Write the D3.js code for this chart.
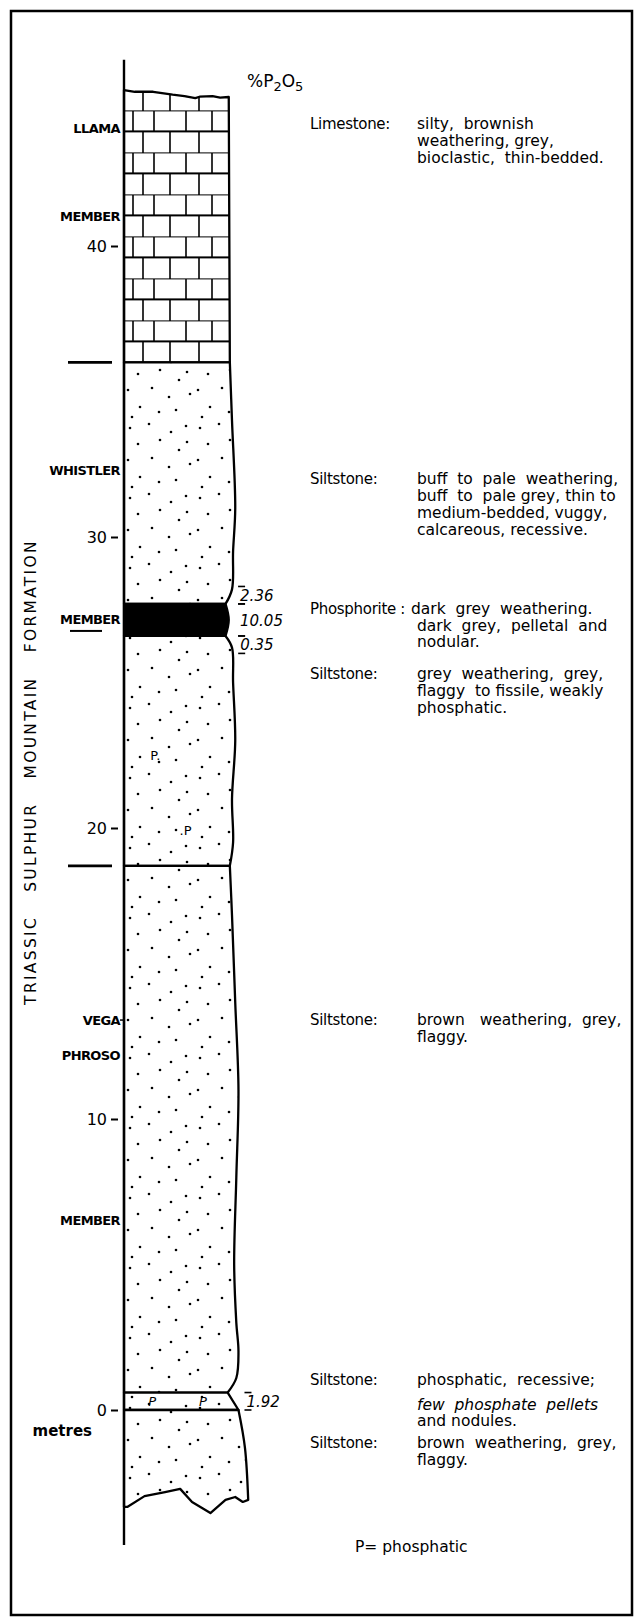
<!DOCTYPE html>
<html>
<head>
<meta charset="utf-8">
<script src="https://cdn.jsdelivr.net/npm/d3@7"></script>
<style>
  body { margin: 0; background: #fff; }
  text { font-family: "DejaVu Sans", sans-serif; fill: #000; }
</style>
</head>
<body>
<div id="chart"></div>
<script>
// scale ticks, metres above the 0 datum
const depthTicks = [0, 10, 20, 30, 40];

// lithologic units, top to bottom
const unitNames = ["Llama limestone", "Whistler siltstone (upper)", "Phosphorite", "Whistler siltstone (lower)", "Vega-Phroso siltstone", "Phosphatic siltstone", "Basal siltstone"];
const unitTops = [45.12, 36.0, 27.7, 26.6, 18.7, 0.6, 0.0];
const unitBases = [36.0, 27.7, 26.6, 18.7, 0.6, 0.0, -3.09];
const unitLith = ["limestone", "siltstone", "phosphorite", "siltstone", "siltstone", "siltstone", "siltstone"];

// weathering profile of the right edge (relative resistance 0-100)
const edgeDepths = [45.12, 36.0, 34.0, 31.0, 29.5, 28.2, 27.7, 27.15, 26.6, 26.2, 25.0, 23.0, 21.0, 19.5, 18.7, 17.0, 14.0, 11.0, 8.0, 5.0, 3.0, 2.0, 1.1, 0.6, 0.0, -1.3, -3.09];
const edgeIndex = [97, 98, 100, 103, 101, 100, 94, 97, 94, 100, 101, 103, 100, 101, 98, 100, 103, 106, 104, 102, 104, 106, 104, 96, 106, 112, 115];

// broken top of the limestone (left to right)
const topIndex = [0, 10, 27, 45, 56, 66, 70, 82, 89, 97];
const topDepths = [45.36, 45.3, 45.3, 45.2, 45.15, 45.08, 45.13, 45.15, 45.1, 45.12];
// eroded base of the lowest siltstone (right to left)
const baseIndex = [115, 110, 103, 94, 80, 63, 52, 38, 19, 3, 0];
const baseDepths = [-3.09, -3.16, -2.99, -3.09, -3.54, -3.16, -2.71, -2.82, -2.96, -3.33, -3.33];

// column axis line extent
const columnExtent = [46.4, -4.64];

// member names and boundaries
const memberLabels = ["LLAMA", "MEMBER", "WHISTLER", "MEMBER", "VEGA", "PHROSO", "MEMBER"];
const memberLabelDepths = [44.05, 41.0, 32.3, 27.15, 13.4, 12.2, 6.5];
const memberBoundaries = [36.0, 18.7];

// %P2O5 samples
const sampleValues = ["2.36", "10.05", "0.35", "1.92"];
const sampleTops = [28.3, 27.7, 26.6, 0.6];
const sampleBases = [27.7, 26.6, 26.0, 0.0];

// "P" (phosphatic) symbols
const pText = ["P.", ".P", "P", "P"];
const pIndex = [29, 57, 26, 73];
const pDepths = [22.5, 19.9, 0.3, 0.3];

// lithologic descriptions
const descLabels = ["Limestone:", "Siltstone:", "Phosphorite :", "Siltstone:", "Siltstone:", "Siltstone:", "", "Siltstone:"];
const descDepths = [44.2, 32.0, 27.55, 25.3, 13.4, 1.03, 0.2, -1.13];
const descLines = [
  ["silty,  brownish", "weathering, grey,", "bioclastic,  thin-bedded."],
  ["buff  to  pale  weathering,", "buff  to  pale grey, thin to", "medium-bedded, vuggy,", "calcareous, recessive."],
  ["dark  grey  weathering.", "dark  grey,  pelletal  and", "nodular."],
  ["grey  weathering,  grey,", "flaggy  to fissile, weakly", "phosphatic."],
  ["brown   weathering,  grey,", "flaggy."],
  ["phosphatic,  recessive;"],
  ["few  phosphate  pellets", "and nodules."],
  ["brown  weathering,  grey,", "flaggy."]
];
const italicLines = ["few  phosphate  pellets"];

const W = 634, H = 1620;
const svg = d3.select("#chart").append("svg").attr("width", W).attr("height", H);

const y = d3.scaleLinear().domain([0, 40]).range([1410, 246]);
const x = d3.scaleLinear().domain([0, 100]).range([124, 232]);
const edgeAt = d3.scaleLinear().domain(edgeDepths).range(edgeIndex);

// frame
svg.append("rect").attr("x", 11).attr("y", 11).attr("width", 621).attr("height", 1604)
  .attr("fill", "none").attr("stroke", "#000").attr("stroke-width", 2.5);

// patterns
const defs = svg.append("defs");
const brick = defs.append("pattern").attr("id", "brick").attr("patternUnits", "userSpaceOnUse")
  .attr("x", x(0)).attr("y", y(36.0)).attr("width", 108).attr("height", 42);
brick.append("rect").attr("width", 108).attr("height", 42).attr("fill", "#fff");
[0, 21].forEach(v => brick.append("line").attr("x1", 0).attr("x2", 108).attr("y1", v).attr("y2", v)
  .attr("stroke", "#000").attr("stroke-width", 1.8));
[9, 30, 62, 88].forEach(v => brick.append("line").attr("x1", v).attr("x2", v).attr("y1", 0).attr("y2", 21)
  .attr("stroke", "#000").attr("stroke-width", 1.6));
[19, 46, 75].forEach(v => brick.append("line").attr("x1", v).attr("x2", v).attr("y1", 21).attr("y2", 42)
  .attr("stroke", "#000").attr("stroke-width", 1.6));

const dots = defs.append("pattern").attr("id", "dots").attr("patternUnits", "userSpaceOnUse")
  .attr("x", x(0)).attr("y", 0).attr("width", 70).attr("height", 70);
dots.append("rect").attr("width", 70).attr("height", 70).attr("fill", "#fff");
[[6, 8], [25, 4], [47, 12], [62, 6], [14, 24], [36, 20], [55, 30], [4, 40], [28, 38], [45, 47],
 [66, 44], [16, 57], [35, 62], [52, 60], [8, 67], [63, 22]].forEach(p =>
  dots.append("circle").attr("cx", p[0]).attr("cy", p[1]).attr("r", 1.3).attr("fill", "#000"));

// column units
const lineLin = d3.line().x(p => x(p[0])).y(p => y(p[1]));
const lineCurve = d3.line().x(p => x(p[0])).y(p => y(p[1])).curve(d3.curveCatmullRom.alpha(0.5));
const last = unitNames.length - 1;

function unitPath(i) {
  const top = unitTops[i], base = unitBases[i];
  const topPts = i === 0 ? topIndex.map((v, k) => [v, topDepths[k]]) : [[0, top], [edgeAt(top), top]];
  const inner = edgeDepths.filter(d => d < top && d > base);
  const edgePts = [[edgeAt(top), top]].concat(inner.map(d => [edgeAt(d), d]), [[edgeAt(base), base]]);
  const basePts = i === last ? baseIndex.map((v, k) => [v, baseDepths[k]]) : [[edgeAt(base), base], [0, base]];
  return lineLin(topPts) + "L" + lineCurve(edgePts).slice(1) + "L" + lineLin(basePts).slice(1) + "Z";
}

const fills = { limestone: "url(#brick)", siltstone: "url(#dots)", phosphorite: "#000" };
svg.append("g").selectAll("path").data(unitNames).join("path")
  .attr("d", (d, i) => unitPath(i))
  .attr("fill", (d, i) => fills[unitLith[i]])
  .attr("stroke", "#000").attr("stroke-width", 2.3).attr("stroke-linejoin", "round");

// column axis line
svg.append("line").attr("x1", x(0)).attr("x2", x(0))
  .attr("y1", y(columnExtent[0])).attr("y2", y(columnExtent[1]))
  .attr("stroke", "#000").attr("stroke-width", 2.4);

// P symbols
svg.append("g").selectAll("text").data(pText).join("text")
  .attr("x", (d, i) => x(pIndex[i])).attr("y", (d, i) => y(pDepths[i])).attr("dy", "0.35em")
  .attr("text-anchor", "middle").attr("font-size", 13)
  .attr("font-style", (d, i) => pDepths[i] < 1 ? "italic" : "normal")
  .text(d => d);

// depth axis
const axis = svg.append("g").attr("transform", `translate(${x(0) - 6},0)`)
  .call(d3.axisLeft(y).tickValues(depthTicks).tickSize(7).tickPadding(4).tickFormat(d3.format("d")));
axis.select(".domain").remove();
axis.selectAll("line").attr("stroke-width", 2);
axis.selectAll("text").attr("font-size", 16).attr("font-family", "DejaVu Sans");
svg.append("text").attr("x", 92).attr("y", y(-0.7)).attr("dy", "0.35em").attr("text-anchor", "end")
  .attr("font-size", 15).attr("font-weight", "bold").text("metres");

// member labels and boundaries
svg.append("g").selectAll("text").data(memberLabels).join("text")
  .attr("x", x(0) - 4).attr("y", (d, i) => y(memberLabelDepths[i])).attr("dy", "0.35em")
  .attr("text-anchor", "end").attr("font-size", 13).attr("font-weight", "bold")
  .attr("letter-spacing", -0.6).text(d => d);
svg.append("line").attr("x1", 70).attr("x2", 102)
  .attr("y1", y(memberLabelDepths[3]) + 11).attr("y2", y(memberLabelDepths[3]) + 11)
  .attr("stroke", "#000").attr("stroke-width", 2);
svg.append("line").attr("x1", x(0) - 4).attr("x2", x(0))
  .attr("y1", y(memberLabelDepths[4])).attr("y2", y(memberLabelDepths[4]))
  .attr("stroke", "#000").attr("stroke-width", 1.5);
svg.append("g").selectAll("line").data(memberBoundaries).join("line")
  .attr("x1", 68).attr("x2", 112).attr("y1", d => y(d)).attr("y2", d => y(d))
  .attr("stroke", "#000").attr("stroke-width", 2.6);

// formation name
svg.append("text").attr("transform", "translate(31,772) rotate(-90)").attr("dy", "0.35em")
  .attr("text-anchor", "middle").attr("font-size", 15.5)
  .attr("letter-spacing", 2.3).attr("word-spacing", 17)
  .text("TRIASSIC SULPHUR MOUNTAIN FORMATION");

// %P2O5 header
const hdr = svg.append("text").attr("x", 247).attr("y", 87).attr("font-size", 17);
hdr.append("tspan").text("%P");
hdr.append("tspan").attr("dy", 4).attr("font-size", 13).text("2");
hdr.append("tspan").attr("dy", -4).text("O");
hdr.append("tspan").attr("dy", 4).attr("font-size", 13).text("5");

// sample bars and values
const sampleBarX = sampleValues.map((v, i) => {
  const mid = (sampleTops[i] + sampleBases[i]) / 2;
  return x(Math.max(100, edgeAt(sampleTops[i]), edgeAt(sampleBases[i]), edgeAt(mid))) + 6;
});
const bars = svg.append("g");
sampleValues.forEach((v, i) => {
  [sampleTops[i], sampleBases[i]].forEach(d => bars.append("line")
    .attr("x1", sampleBarX[i]).attr("x2", sampleBarX[i] + 7).attr("y1", y(d)).attr("y2", y(d))
    .attr("stroke", "#000").attr("stroke-width", 1.6));
});
svg.append("g").selectAll("text").data(sampleValues).join("text")
  .attr("x", (d, i) => sampleBarX[i] + 2)
  .attr("y", (d, i) => y((sampleTops[i] + sampleBases[i]) / 2)).attr("dy", "0.38em")
  .attr("font-size", 15).attr("font-style", "italic").text(d => d);

// descriptions
const lineStep = 16.8;
const desc = svg.append("g");
descLabels.forEach((lab, i) => {
  const y0 = y(descDepths[i]);
  desc.append("text").attr("x", 310).attr("y", y0).attr("dy", "0.35em").attr("font-size", 15)
    .attr("letter-spacing", -0.3).text(lab);
  descLines[i].forEach((ln, k) => {
    desc.append("text").attr("x", (i === 2 && k === 0) ? 411 : 417).attr("y", y0 + k * lineStep)
      .attr("dy", "0.35em").attr("font-size", 15.5).attr("xml:space", "preserve")
      .attr("font-style", italicLines.includes(ln) ? "italic" : "normal").text(ln);
  });
});
svg.append("text").attr("x", 355).attr("y", y(-4.7)).attr("dy", "0.35em").attr("font-size", 15.5)
  .text("P= phosphatic");
</script>
</body>
</html>
